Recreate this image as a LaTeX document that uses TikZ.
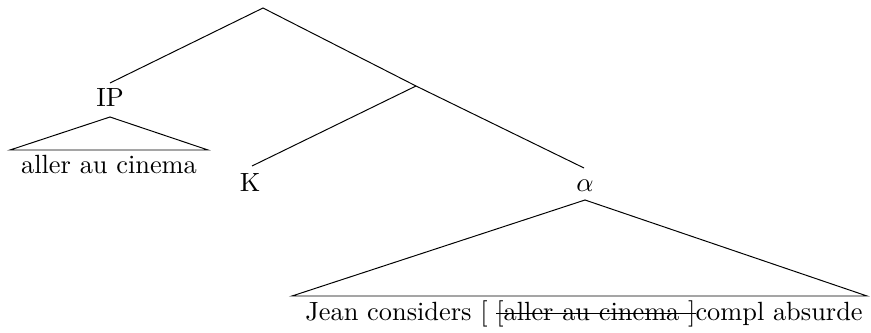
\documentclass[tikz,border=0pt]{standalone}
\usepackage{fontspec}
\newsavebox\mystrkbox
\newcommand\mystrike[1]{\sbox\mystrkbox{#1}\rlap{\usebox\mystrkbox}\rule[0.55ex]{\wd\mystrkbox}{0.4pt}}
\begin{document}
\begin{tikzpicture}[x=0.408pt,y=-0.408pt,
  lbl/.style={anchor=base,inner sep=0pt,outer sep=0pt,font=\fontsize{10.75}{13}\selectfont},
  edge/.style={line width=0.4pt}]
\useasboundingbox (0,0) rectangle (871,332);
% labels
\node[lbl] (IP) at (110,107) {IP};
\node[lbl] (IPtext) at (109,174) {aller au cinema};
\node[lbl] (K) at (250,192) {K};
\node[lbl] (alpha) at (585,192) {$\alpha$};
\node[lbl] (alphatext) at (584,320) {Jean considers [ \mystrike{[aller au cinema ]}compl absurde};
% tree points
\coordinate (root) at (263,8);
\coordinate (mid) at (416,86);
\coordinate (IPup) at (110,83);
\coordinate (Kup) at (252,166);
\coordinate (alphaup) at (584,168);
% IP triangle
\coordinate (IPapex) at (110,117);
\coordinate (IPl) at (10,150);
\coordinate (IPr) at (208,150);
% alpha triangle
\coordinate (Aapex) at (585,200);
\coordinate (Al) at (292,296);
\coordinate (Ar) at (867,296);
\draw[edge] (IPup) -- (root) -- (mid) -- (alphaup);
\draw[edge] (mid) -- (Kup);
\draw[edge] (IPapex) -- (IPl) -- (IPr) -- cycle;
\draw[edge] (Aapex) -- (Al) -- (Ar) -- cycle;
\end{tikzpicture}
\end{document}
